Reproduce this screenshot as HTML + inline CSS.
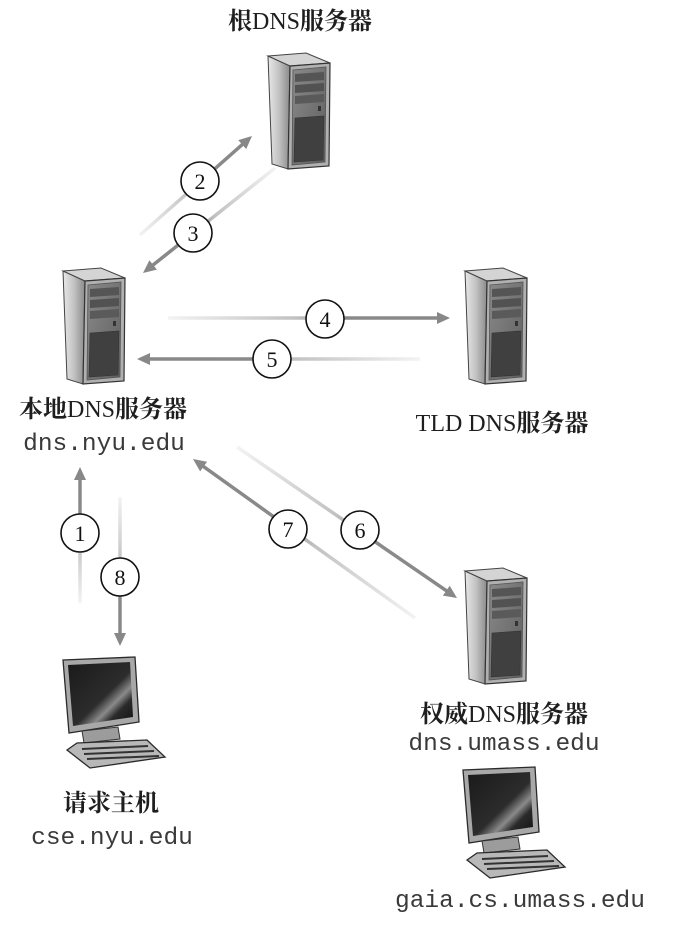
<!DOCTYPE html>
<html><head><meta charset="utf-8"><style>
html,body{margin:0;padding:0;background:#fff;}
svg{display:block;}
.lab{font-family:"Liberation Serif","Noto Serif CJK SC",serif;font-size:24px;fill:#1e1e1e;}
.cj{font-weight:bold;}
.mono{font-family:"Liberation Mono",monospace;font-size:24.5px;fill:#3a3a3a;}
.num{font-family:"Liberation Serif",serif;font-size:22px;fill:#111;}
</style></head><body>
<svg width="684" height="930" viewBox="0 0 684 930" xmlns="http://www.w3.org/2000/svg">
<defs>
<linearGradient id="side" x1="0" y1="0" x2="1" y2="0">
<stop offset="0" stop-color="#e8e8e8"/><stop offset="0.5" stop-color="#c2c2c2"/><stop offset="1" stop-color="#8a8a8a"/>
</linearGradient>
<linearGradient id="front" x1="0" y1="0" x2="1" y2="1">
<stop offset="0" stop-color="#8a8a8a"/><stop offset="1" stop-color="#5e5e5e"/>
</linearGradient>
<linearGradient id="scr" x1="0" y1="0" x2="1" y2="1">
<stop offset="0" stop-color="#1a1a1a"/><stop offset="0.55" stop-color="#2c2c2c"/><stop offset="0.68" stop-color="#8a8a8a"/><stop offset="0.78" stop-color="#2a2a2a"/><stop offset="1" stop-color="#111"/>
</linearGradient>
<g id="server">
<polygon points="0,0 22,10 20,113 4,108" fill="url(#side)" stroke="#444" stroke-width="1"/>
<polygon points="0,0 38,-3 62,7 22,10" fill="#d4d4d4" stroke="#444" stroke-width="1"/>
<polygon points="22,10 62,7 61,110 20,113" fill="#b0b0b0" stroke="#333" stroke-width="1.2"/>
<polygon points="25,14 58,11 57,106 24,109" fill="url(#front)" stroke="#555" stroke-width="0.8"/>
<polygon points="27,18 56,16 56,24 27,26" fill="#555"/>
<polygon points="27,29 56,27 56,35 27,37" fill="#525252"/>
<polygon points="27,40 56,38 56,46 27,48" fill="#5a5a5a"/>
<rect x="50" y="50" width="3" height="5" fill="#333"/>
<polygon points="27,62 56,60 55,104 26,106" fill="#404040" stroke="#333" stroke-width="0.6"/>
</g>
<g id="pc">
<polygon points="1,3 73,0 77,65 7,76" fill="#a8a8a8" stroke="#2a2a2a" stroke-width="1.3"/>
<polygon points="6,8 68,5 71,60 11,69" fill="url(#scr)"/>
<polygon points="20,74 56,70 58,82 22,86" fill="#9c9c9c" stroke="#333" stroke-width="1"/>
<polygon points="5,93 15,86 85,83 103,100 28,111" fill="#b8b8b8" stroke="#2a2a2a" stroke-width="1.3"/>
<line x1="20" y1="92" x2="86" y2="89" stroke="#333" stroke-width="2"/>
<line x1="22" y1="97" x2="92" y2="94" stroke="#333" stroke-width="2"/>
<line x1="25" y1="102" x2="97" y2="99" stroke="#333" stroke-width="2"/>
</g>
<linearGradient id="g2" gradientUnits="userSpaceOnUse" x1="140" y1="235" x2="252" y2="136"><stop offset="0" stop-color="#999" stop-opacity="0.12"/><stop offset="0.45" stop-color="#999" stop-opacity="0.6"/><stop offset="0.62" stop-color="#8a8a8a"/><stop offset="1" stop-color="#888"/></linearGradient>
<linearGradient id="g3" gradientUnits="userSpaceOnUse" x1="275" y1="168" x2="143" y2="273"><stop offset="0" stop-color="#999" stop-opacity="0.12"/><stop offset="0.45" stop-color="#999" stop-opacity="0.6"/><stop offset="0.65" stop-color="#8a8a8a"/><stop offset="1" stop-color="#888"/></linearGradient>
<linearGradient id="g4" gradientUnits="userSpaceOnUse" x1="168" y1="318" x2="450" y2="318"><stop offset="0" stop-color="#999" stop-opacity="0.12"/><stop offset="0.45" stop-color="#999" stop-opacity="0.6"/><stop offset="0.62" stop-color="#8a8a8a"/><stop offset="1" stop-color="#888"/></linearGradient>
<linearGradient id="g5" gradientUnits="userSpaceOnUse" x1="420" y1="359" x2="137" y2="359"><stop offset="0" stop-color="#999" stop-opacity="0.12"/><stop offset="0.45" stop-color="#999" stop-opacity="0.6"/><stop offset="0.6" stop-color="#8a8a8a"/><stop offset="1" stop-color="#888"/></linearGradient>
<linearGradient id="g1" gradientUnits="userSpaceOnUse" x1="80" y1="603" x2="80" y2="467"><stop offset="0" stop-color="#999" stop-opacity="0.12"/><stop offset="0.45" stop-color="#999" stop-opacity="0.6"/><stop offset="0.62" stop-color="#8a8a8a"/><stop offset="1" stop-color="#888"/></linearGradient>
<linearGradient id="g8" gradientUnits="userSpaceOnUse" x1="120" y1="497" x2="120" y2="646"><stop offset="0" stop-color="#999" stop-opacity="0.12"/><stop offset="0.45" stop-color="#999" stop-opacity="0.6"/><stop offset="0.62" stop-color="#8a8a8a"/><stop offset="1" stop-color="#888"/></linearGradient>
<linearGradient id="g7" gradientUnits="userSpaceOnUse" x1="415" y1="618" x2="193" y2="459"><stop offset="0" stop-color="#999" stop-opacity="0.12"/><stop offset="0.45" stop-color="#999" stop-opacity="0.6"/><stop offset="0.6" stop-color="#8a8a8a"/><stop offset="1" stop-color="#888"/></linearGradient>
<linearGradient id="g6" gradientUnits="userSpaceOnUse" x1="237" y1="447" x2="457" y2="598"><stop offset="0" stop-color="#999" stop-opacity="0.12"/><stop offset="0.45" stop-color="#999" stop-opacity="0.6"/><stop offset="0.62" stop-color="#8a8a8a"/><stop offset="1" stop-color="#888"/></linearGradient>
</defs>

<!-- servers -->
<use href="#server" x="268" y="56"/>
<use href="#server" x="63" y="271"/>
<use href="#server" x="465" y="271"/>
<use href="#server" x="465" y="571"/>
<!-- computers -->
<use href="#pc" x="62" y="657"/>
<use href="#pc" x="462" y="767"/>

<!-- arrows -->
<g stroke-width="3.5" fill="none" stroke-linecap="butt">
<line x1="140" y1="235" x2="244.5" y2="142.6" stroke="url(#g2)"/>
<line x1="275" y1="168" x2="150.8" y2="266.8" stroke="url(#g3)"/>
<line x1="168" y1="318" x2="440" y2="318" stroke="url(#g4)"/>
<line x1="420" y1="359" x2="147" y2="359" stroke="url(#g5)"/>
<line x1="80" y1="603" x2="80" y2="477" stroke="url(#g1)"/>
<line x1="120" y1="497" x2="120" y2="636" stroke="url(#g8)"/>
<line x1="415" y1="618" x2="201.1" y2="464.8" stroke="url(#g7)"/>
<line x1="237" y1="447" x2="448.7" y2="592.3" stroke="url(#g6)"/>
</g>
<g fill="#888">
<polygon points="252,136 246.2,149.1 238.3,140.1"/>
<polygon points="143,273 156.9,269.6 149.4,260.2"/>
<polygon points="450,318 437,324 437,312"/>
<polygon points="137,359 150,365 150,353"/>
<polygon points="80,467 86,480 74,480"/>
<polygon points="120,646 126,633 114,633"/>
<polygon points="193,459 207.1,461.7 200.1,471.4"/>
<polygon points="457,598 442.9,595.6 449.7,585.7"/>
</g>

<!-- step circles -->
<g fill="#fff" stroke="#111" stroke-width="1.6">
<circle cx="200" cy="181" r="19"/>
<circle cx="193" cy="233" r="19"/>
<circle cx="325" cy="319" r="19"/>
<circle cx="272" cy="359" r="19"/>
<circle cx="80" cy="533" r="19"/>
<circle cx="120" cy="577" r="19"/>
<circle cx="288" cy="529" r="19"/>
<circle cx="360" cy="530" r="19"/>
</g>
<g class="num" text-anchor="middle">
<text x="200" y="189">2</text>
<text x="193" y="241">3</text>
<text x="325" y="327">4</text>
<text x="272" y="367">5</text>
<text x="80" y="541">1</text>
<text x="120" y="585">8</text>
<text x="288" y="537">7</text>
<text x="360" y="538">6</text>
</g>

<!-- labels -->
<text class="lab" x="300" y="29" text-anchor="middle"><tspan class="cj">根</tspan>DNS<tspan class="cj">服务器</tspan></text>
<text class="lab" x="103" y="417" text-anchor="middle"><tspan class="cj">本地</tspan>DNS<tspan class="cj">服务器</tspan></text>
<text class="mono" x="104" y="450" text-anchor="middle">dns.nyu.edu</text>
<text class="lab" x="502" y="431" text-anchor="middle">TLD DNS<tspan class="cj">服务器</tspan></text>
<text class="lab" x="504" y="722" text-anchor="middle"><tspan class="cj">权威</tspan>DNS<tspan class="cj">服务器</tspan></text>
<text class="mono" x="504" y="750" text-anchor="middle">dns.umass.edu</text>
<text class="lab" x="111" y="811" text-anchor="middle"><tspan class="cj">请求主机</tspan></text>
<text class="mono" x="112" y="844" text-anchor="middle">cse.nyu.edu</text>
<text class="mono" x="520" y="907" text-anchor="middle">gaia.cs.umass.edu</text>
</svg>
</body></html>
